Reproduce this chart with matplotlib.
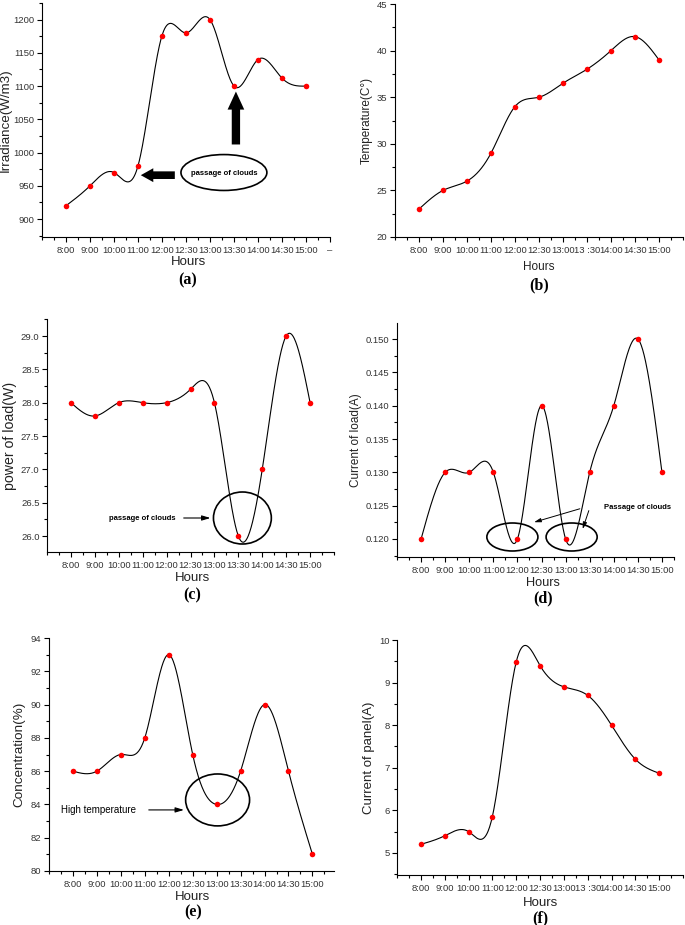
import matplotlib
matplotlib.use("Agg")
import matplotlib.pyplot as plt
import numpy as np
from matplotlib.patches import Ellipse
from matplotlib.ticker import MultipleLocator

plt.rcParams['font.family'] = ['Liberation Sans', 'DejaVu Sans']

# Data

hours = ["8:00", "9:00", "10:00", "11:00", "12:00", "12:30", "13:00", "13:30", "14:00", "14:30", "15:00"]
hours_b = ["8:00", "9:00", "10:00", "11:00", "12:00", "12:30", "13:00", "13 :30", "14:00", "14:30", "15:00"]

irradiance = [920, 950, 970, 980, 1176, 1180, 1200, 1100, 1140, 1112, 1100]
temperature = [23, 25, 26, 29, 34, 35, 36.5, 38, 40, 41.5, 39]
power_load = [28.0, 27.8, 28.0, 28.0, 28.0, 28.2, 28.0, 26.0, 27.0, 29.0, 28.0]
current_load = [0.120, 0.130, 0.130, 0.130, 0.120, 0.140, 0.120, 0.130, 0.140, 0.150, 0.130]
concentration = [86, 86, 87, 88, 93, 87, 84, 86, 90, 86, 81]
current_panel = [5.2, 5.4, 5.5, 5.85, 9.48, 9.4, 8.9, 8.7, 8.0, 7.2, 6.87]


def spline(x, y, n=500):
    # natural cubic spline, just for drawing the smooth line
    x = np.asarray(x, float)
    y = np.asarray(y, float)
    m = len(x)
    h = np.diff(x)
    A = np.zeros((m, m))
    r = np.zeros(m)
    A[0][0] = 1
    A[m - 1][m - 1] = 1
    for i in range(1, m - 1):
        A[i][i - 1] = h[i - 1]
        A[i][i] = 2 * (h[i - 1] + h[i])
        A[i][i + 1] = h[i]
        r[i] = 6 * ((y[i + 1] - y[i]) / h[i] - (y[i] - y[i - 1]) / h[i - 1])
    M = np.linalg.solve(A, r)
    xs = np.linspace(x[0], x[-1], n)
    k = np.clip(np.searchsorted(x, xs) - 1, 0, m - 2)
    t0 = x[k + 1] - xs
    t1 = xs - x[k]
    hk = h[k]
    ys = (M[k] * t0 ** 3 / (6 * hk) + M[k + 1] * t1 ** 3 / (6 * hk)
          + (y[k] / hk - M[k] * hk / 6) * t0 + (y[k + 1] / hk - M[k + 1] * hk / 6) * t1)
    return xs, ys


W, H = 685, 925
fig = plt.figure(figsize=(W / 100, H / 100), dpi=100)


def make_ax(l, r, t, b):
    return fig.add_axes([l / W, 1 - b / H, (r - l) / W, (b - t) / H])


def style(ax, xmax, labels, ylim, ymaj, ymin, fmt, ylabel, lx, lsize, extra=None):
    x = np.arange(1, len(labels) + 1)
    ax.set_xlim(0, xmax)
    ax.set_ylim(*ylim)
    ax.spines['top'].set_visible(False)
    ax.spines['right'].set_visible(False)
    ticks = list(x)
    labs = list(labels)
    if extra:
        ticks.append(12)
        labs.append(extra)
    ax.set_xticks(ticks)
    ax.set_xticklabels(labs)
    ax.xaxis.set_minor_locator(MultipleLocator(0.5))
    ax.yaxis.set_major_locator(MultipleLocator(ymaj))
    ax.yaxis.set_minor_locator(MultipleLocator(ymin))
    ax.yaxis.set_major_formatter(fmt)
    ax.tick_params(which='major', length=3.6, width=0.8, labelsize=6.8, labelcolor='#333333', pad=1.8)
    ax.tick_params(which='minor', length=2.2, width=0.8)
    ax.tick_params(axis='x', pad=3)
    ax.set_ylabel(ylabel, fontsize=lsize, color='#222222')
    ax.yaxis.set_label_coords(lx, 0.5)


def draw(ax, vals):
    x = np.arange(1, len(vals) + 1)
    xs, ys = spline(x, vals)
    ax.plot(xs, ys, color='black', lw=0.8)
    ax.plot(x, vals, 'o', color='red', markersize=4, markeredgewidth=0)


def under(cx, y1, y2, letter, hsize=8.8):
    fig.text(cx / W, 1 - y1 / H, "Hours", ha='center', va='center', fontsize=hsize, color='#222222')
    fig.text(cx / W, 1 - y2 / H, letter, ha='center', va='center', fontsize=11.5,
             fontweight='bold', family='Liberation Serif')


# (a)
ax = make_ax(42, 330, 3, 237)
draw(ax, irradiance)
style(ax, 12, hours, (873, 1225), 50, 25, '{x:.0f}', "Irradiance(W/m3)", -0.104, 9.6, extra="–")
ax.add_patch(Ellipse((7.58, 970), 3.58, 54, fill=False, lw=1.2, color='black'))
ax.text(7.58, 968, "passage of clouds", ha='center', va='center', fontsize=5.5, fontweight='bold')
ax.annotate("", xy=(4.0, 966), xytext=(5.65, 966),
            arrowprops=dict(arrowstyle='simple,head_length=0.9,head_width=1.0,tail_width=0.55',
                            color='black', lw=0))
ax.annotate("", xy=(8.08, 1096), xytext=(8.08, 1008),
            arrowprops=dict(arrowstyle='simple,head_length=1.3,head_width=1.2,tail_width=0.6',
                            color='black', lw=0))
under(188, 262, 280, "(a)", 9.5)

# (b)
ax = make_ax(395, 683, 4, 237)
draw(ax, temperature)
style(ax, 12, hours_b, (20, 45), 5, 2.5, '{x:.0f}', "Temperature(C°)", -0.076, 8.5)
under(539, 267, 285, "(b)", 8.5)

# (c)
ax = make_ax(47, 334, 319, 552)
draw(ax, power_load)
style(ax, 12, hours, (25.76, 29.255), 0.5, 0.25, '{x:.1f}', "power of load(W)", -0.105, 10.2)
ax.add_patch(Ellipse((8.17, 26.27), 2.42, 0.78, fill=False, lw=1.2, color='black'))
ax.text(2.58, 26.27, "passage of clouds", ha='left', va='center', fontsize=5.5, fontweight='bold')
ax.annotate("", xy=(6.95, 26.27), xytext=(5.6, 26.27),
            arrowprops=dict(arrowstyle='-|>,head_length=0.5,head_width=0.15', color='black', lw=0.8))
under(192, 578, 595, "(c)", 9.5)

# (d)
ax = make_ax(397, 674, 323, 557)
draw(ax, current_load)
style(ax, 11.5, hours, (0.1173, 0.1524), 0.005, 0.0025, '{x:.3f}', "Current of load(A)", -0.126, 8.5)
ax.add_patch(Ellipse((4.79, 0.1203), 2.12, 0.0042, fill=False, lw=1.2, color='black'))
ax.add_patch(Ellipse((7.25, 0.1203), 2.12, 0.0042, fill=False, lw=1.2, color='black'))
ax.text(8.6, 0.1248, "Passage of clouds", ha='left', va='center', fontsize=5.5, fontweight='bold')
ax.annotate("", xy=(5.58, 0.1224), xytext=(7.7, 0.12465),
            arrowprops=dict(arrowstyle='-|>,head_length=0.4,head_width=0.12', color='black', lw=0.7))
ax.annotate("", xy=(7.67, 0.1211), xytext=(8.0, 0.12465),
            arrowprops=dict(arrowstyle='-|>,head_length=0.4,head_width=0.12', color='black', lw=0.7))
under(543, 583, 598, "(d)", 9.2)

# (e)
ax = make_ax(49, 334, 638, 871)
draw(ax, concentration)
style(ax, 11.9, hours, (80, 94), 2, 1, '{x:.0f}', "Concentration(%)", -0.084, 9.7)
ax.add_patch(Ellipse((7.04, 84.27), 2.67, 3.12, fill=False, lw=1.2, color='black'))
ax.text(0.5, 83.67, "High temperature", ha='left', va='center', fontsize=7)
ax.annotate("", xy=(5.75, 83.67), xytext=(4.05, 83.67),
            arrowprops=dict(arrowstyle='-|>,head_length=0.5,head_width=0.15', color='black', lw=0.8))
under(193, 897, 912, "(e)", 9.5)

# (f)
ax = make_ax(397, 683, 640, 875)
draw(ax, current_panel)
style(ax, 12, hours_b, (4.48, 10), 1, 0.5, '{x:.0f}', "Current of panel(A)", -0.077, 9.5)
under(540, 903, 918, "(f)", 9.5)

plt.savefig("out.png", dpi=100)
